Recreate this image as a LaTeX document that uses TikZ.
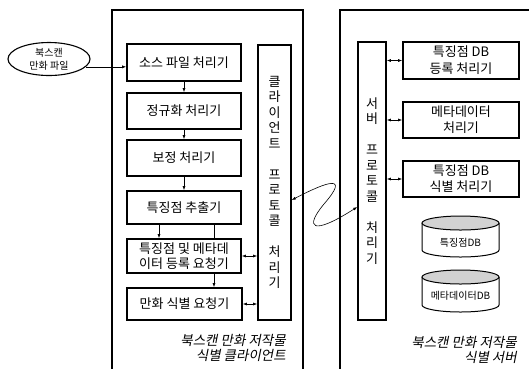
\documentclass[tikz,border=0pt]{standalone}
\usepackage{fontspec}
\setmainfont{Noto Sans CJK KR}
\newfontfamily\krit[FakeSlant=0.2]{Noto Sans CJK KR}
\usetikzlibrary{shapes.geometric,arrows.meta}
\begin{document}
\begin{tikzpicture}[x=1pt,y=-1pt,
  box/.style={draw,line width=1.6pt,fill=white,inner sep=0pt,font=\fontsize{13}{14.5}\selectfont,align=center},
  proto/.style={draw,line width=1.6pt,fill=white,inner sep=0pt,font=\fontsize{13}{15.5}\selectfont,align=center},
  outer/.style={line width=1.1pt},
  arr/.style={-{Latex[length=4pt,width=3pt]},line width=0.6pt},
  darr/.style={{Latex[length=4pt,width=3pt]}-{Latex[length=4pt,width=3pt]},line width=0.6pt},
  cyl/.style={line width=1pt},
  lab/.style={font=\krit\fontsize{13.5}{15}\selectfont,align=right,anchor=east,inner sep=0pt}]
\useasboundingbox (0,0) rectangle (529,368);
% outer frames
\draw[outer] (112,372) -- (112,10) -- (303,10) -- (303,372);
\draw[outer] (340,372) -- (340,10) -- (533,10);
% input
\node[draw,ellipse,line width=1.1pt,minimum width=82pt,minimum height=33pt,inner sep=0pt,align=center,font=\fontsize{10}{13}\selectfont] (in) at (49,59) {북스캔\\만화 파일};
% client boxes
\node[box,minimum width=114pt,minimum height=37pt] (src) at (184,62.5) {소스 파일 처리기};
\node[box,minimum width=114pt,minimum height=36pt] (norm) at (184,111) {정규화 처리기};
\node[box,minimum width=114pt,minimum height=36pt] (corr) at (184,158) {보정 처리기};
\node[box,minimum width=114pt,minimum height=33pt] (feat) at (184,207.5) {특징점 추출기};
\node[box,minimum width=115pt,minimum height=32pt] (ident) at (184.5,304) {만화 식별 요청기};
\draw[arr] ([xshift=30pt]feat.south) -- ([xshift=30pt]feat.south |- ident.north);
\node[box,minimum width=114pt,minimum height=34pt] (reg) at (184,256) {특징점 및 메타데\\이터 등록 요청기};
\node[proto,minimum width=33pt,minimum height=275pt] (cp) at (274.5,182.5) {클\\라\\이\\언\\트\\[15.5pt]프\\로\\토\\콜\\[15.5pt]처\\리\\기};
% server boxes
\node[proto,minimum width=28pt,minimum height=278pt] (sp) at (372,181) {서\\버\\[15.5pt]프\\로\\토\\콜\\[15.5pt]처\\리\\기};
\node[box,minimum width=116pt,minimum height=37pt,font=\fontsize{13}{17}\selectfont] (sreg) at (461,60.5) {특징점 DB\\등록 처리기};
\node[box,minimum width=116pt,minimum height=36pt,font=\fontsize{13}{16}\selectfont] (meta) at (461,120) {메타데이터\\처리기};
\node[box,minimum width=116pt,minimum height=36pt,font=\fontsize{13}{16}\selectfont] (sid) at (461,179) {특징점 DB\\식별 처리기};
% databases
\draw[cyl,fill=white] (422,223) -- (422,250) arc[start angle=180,end angle=360,x radius=38.5pt,y radius=7pt] -- (499,223);
\draw[cyl,fill=gray!35] (460.5,223) ellipse [x radius=38.5pt,y radius=7pt];
\node[font=\fontsize{10}{11}\selectfont] (db1) at (460.5,243) {특징점DB};
\draw[cyl,fill=white] (422,277) -- (422,305) arc[start angle=180,end angle=360,x radius=38.5pt,y radius=7pt] -- (499,277);
\draw[cyl,fill=gray!35] (460.5,277) ellipse [x radius=38.5pt,y radius=7pt];
\node[font=\fontsize{10}{11}\selectfont] (db2) at (460.5,296) {메타데이터DB};
% connectors
\draw[arr] (in.-12) -- (in.-12 -| src.west);
\draw[arr] (src) -- (norm);
\draw[arr] (norm) -- (corr);
\draw[arr] (corr) -- (feat);
\draw[arr] ([xshift=-25pt]feat.south) -- ([xshift=-25pt]reg.north);
\draw[darr] (reg.east) -- (reg.east -| cp.west);
\draw[darr] (ident.east) -- (ident.east -| cp.west);
\draw[darr] (sreg.west -| sp.east) -- (sreg.west);
\draw[darr] (meta.west -| sp.east) -- (meta.west);
\draw[darr] (sid.west -| sp.east) -- (sid.west);
\draw[darr] (cp.east |- 0,200) .. controls (328,181) and (350,174) .. (324,204) .. controls (304,228) and (312,236) .. (sp.west |- 0,207);
% labels
\node[lab] (clab) at (286,347.5) {북스캔 만화 저작물\\식별 클라이언트};
\node[lab] (slab) at (517,350) {북스캔 만화 저작물\\식별 서버};
\end{tikzpicture}
\end{document}
